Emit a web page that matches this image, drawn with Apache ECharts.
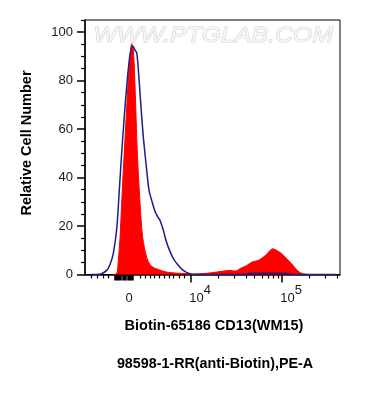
<!DOCTYPE html>
<html>
<head>
<meta charset="utf-8">
<script src="https://cdn.jsdelivr.net/npm/echarts@6/dist/echarts.min.js"></script>
<style>
html,body{margin:0;padding:0;background:#fff;}
#c{width:370px;height:401px;}
</style>
</head>
<body>
<div id="c"></div>
<script>
// x values are positions on the biexponential display scale (10^4 -> 4, 10^5 -> 5)
const controlX = [2.90, 2.964, 3.011, 3.074, 3.110, 3.146, 3.184, 3.212, 3.238, 3.264, 3.293, 3.322, 3.346, 3.363, 3.385, 3.403, 3.421, 3.447, 3.476, 3.513, 3.538, 3.568, 3.604, 3.637, 3.659, 3.696, 3.725, 3.751, 3.805, 3.857, 3.901, 3.956, 4.022, 4.60, 4.65, 5.05, 5.10, 5.60];
const controlY = [0, 0, 0.2, 1.7, 4.1, 8.7, 19.0, 34.8, 50.1, 63.8, 77.4, 88.6, 93.8, 94.2, 92.5, 91.5, 84.5, 70.8, 56.7, 43.1, 34.8, 30.6, 26.1, 23.6, 22.4, 18.2, 14.1, 11.2, 6.6, 3.9, 2.1, 0.8, 0, 0, 0.5, 0.5, 0, 0];
const sampleX = [3.143, 3.184, 3.201, 3.220, 3.238, 3.256, 3.286, 3.311, 3.333, 3.348, 3.366, 3.385, 3.410, 3.440, 3.469, 3.513, 3.549, 3.586, 3.637, 3.733, 3.824, 3.934, 4.025, 4.173, 4.282, 4.355, 4.429, 4.484, 4.538, 4.612, 4.667, 4.740, 4.795, 4.838, 4.868, 4.898, 4.942, 4.997, 5.052, 5.107, 5.162, 5.216, 5.289];
const sampleY = [0, 0.4, 5.8, 15.3, 29.4, 43.1, 63.8, 80.3, 90.7, 95.2, 92.8, 77.4, 50.1, 29.4, 15.3, 7.0, 4.1, 2.9, 2.1, 1.0, 0.6, 0.4, 0.2, 0.5, 1.0, 1.4, 1.7, 1.4, 2.4, 3.7, 5.1, 5.8, 7.2, 8.6, 9.9, 10.6, 9.9, 8.6, 6.5, 4.4, 1.9, 0.5, 0];

const xLabelPos = [3.319, 4, 5];
const xLabelBase = ['0', '10', '10'];
const xLabelExp = ['', '4', '5'];
const xMajorTicks = [4, 5];
const xMinorTicks = [2.901, 2.967, 3.033, 3.088, 3.440, 3.495, 3.549, 3.593, 3.648, 3.703, 3.758, 3.802, 3.868, 3.923,
  4.301, 4.477, 4.602, 4.699, 4.778, 4.845, 4.903, 4.954, 5.301, 5.477, 5.602];
const xZeroTicks = [3.165, 3.176, 3.187, 3.198, 3.209, 3.220, 3.231, 3.253, 3.264, 3.275, 3.286, 3.308, 3.319, 3.330, 3.341, 3.352, 3.363];
const yLabels = [0, 20, 40, 60, 80, 100];
const yMinorTicks = [5, 10, 15, 25, 30, 35, 45, 50, 55, 65, 70, 75, 85, 90, 95, 105];

const xTitle = 'Biotin-65186 CD13(WM15)';
const xSubTitle = '98598-1-RR(anti-Biotin),PE-A';
const yTitle = 'Relative Cell Number';
const watermark = 'WWW.PTGLAB.COM';

const FONT = "'Liberation Sans', Arial, sans-serif";
const chart = echarts.init(document.getElementById('c'), null, {renderer: 'canvas'});

function zip(a, b) { return a.map((v, i) => [v, b[i]]); }

const xMin = 2.835, xMax = 5.637;
function baseX(extra) {
  return Object.assign({
    type: 'value', min: xMin, max: xMax, position: 'bottom',
    splitLine: {show: false},
    axisLine: {show: false},
    axisLabel: {show: false},
    axisTick: {show: false}
  }, extra);
}

chart.setOption({
  animation: false,
  backgroundColor: '#fff',
  grid: {left: 85, right: 30, top: 20, bottom: 126.5, show: true, borderColor: '#000', borderWidth: 1, backgroundColor: 'transparent'},
  xAxis: [
    baseX({
      axisLine: {show: true, onZero: false, lineStyle: {color: '#000', width: 1.5}},
      axisTick: {show: true, customValues: xMajorTicks, length: 8, lineStyle: {color: '#000', width: 1.5}},
      axisLabel: {
        show: true, customValues: xLabelPos, margin: 9,
        formatter: function (v) {
          let i = xLabelPos.findIndex(p => Math.abs(p - v) < 1e-6);
          if (i < 0) return '';
          if (!xLabelExp[i]) return '{a|' + xLabelBase[i] + '}';
          return '{b|' + xLabelBase[i] + '}{s|' + xLabelExp[i] + '}';
        },
        rich: {
          a: {fontFamily: FONT, fontSize: 13, color: '#1a1a1a', lineHeight: 21, verticalAlign: 'bottom'},
          b: {fontFamily: FONT, fontSize: 13, color: '#1a1a1a', lineHeight: 21, verticalAlign: 'bottom', padding: [0, 0, 0, 18]},
          s: {fontFamily: FONT, fontSize: 13, color: '#1a1a1a', lineHeight: 21, verticalAlign: 'top'}
        }
      }
    }),
    baseX({axisTick: {show: true, customValues: xMinorTicks, length: 4, lineStyle: {color: '#000', width: 1.2}}}),
    baseX({axisTick: {show: true, customValues: xZeroTicks, length: 6, lineStyle: {color: '#000', width: 1.5}}})
  ],
  yAxis: [
    {
      type: 'value', min: 0, max: 105, position: 'left',
      splitLine: {show: false},
      axisLine: {show: true, onZero: false, lineStyle: {color: '#000', width: 1.5}},
      axisTick: {show: true, customValues: yLabels, length: 8, lineStyle: {color: '#000', width: 1.5}},
      axisLabel: {show: true, customValues: yLabels, margin: 12, fontFamily: FONT, fontSize: 13, color: '#1a1a1a'}
    },
    {
      type: 'value', min: 0, max: 105, position: 'left',
      splitLine: {show: false},
      axisLine: {show: false},
      axisTick: {show: true, customValues: yMinorTicks, length: 4, lineStyle: {color: '#000', width: 1.2}},
      axisLabel: {show: false}
    }
  ],
  graphic: [
    {type: 'text', left: 93, top: 24, z: 0, scaleX: 1.13,
     style: {text: watermark, font: 'italic 22px ' + FONT, fill: '#f6f6f6', stroke: '#cfcfcf', lineWidth: 1}},
    {type: 'text', x: 214, y: 326, style: {text: xTitle, font: 'bold 14.5px ' + FONT, fill: '#000', textAlign: 'center', textVerticalAlign: 'middle'}},
    {type: 'text', x: 215, y: 364, style: {text: xSubTitle, font: 'bold 14.3px ' + FONT, fill: '#000', textAlign: 'center', textVerticalAlign: 'middle'}},
    {type: 'text', x: 27, y: 143, rotation: Math.PI / 2, style: {text: yTitle, font: 'bold 14.5px ' + FONT, fill: '#000', textAlign: 'center', textVerticalAlign: 'middle'}}
  ],
  series: [
    {
      type: 'line', data: zip(sampleX, sampleY), xAxisIndex: 0, yAxisIndex: 0,
      smooth: 0.3, showSymbol: false, z: 2,
      lineStyle: {color: '#ff0000', width: 1},
      areaStyle: {color: '#ff0000', opacity: 1}
    },
    {
      type: 'line', data: zip(controlX, controlY), xAxisIndex: 0, yAxisIndex: 0,
      smooth: 0.3, showSymbol: false, z: 3,
      lineStyle: {color: '#1c1c8a', width: 1.5}
    }
  ]
});
</script>
</body>
</html>
